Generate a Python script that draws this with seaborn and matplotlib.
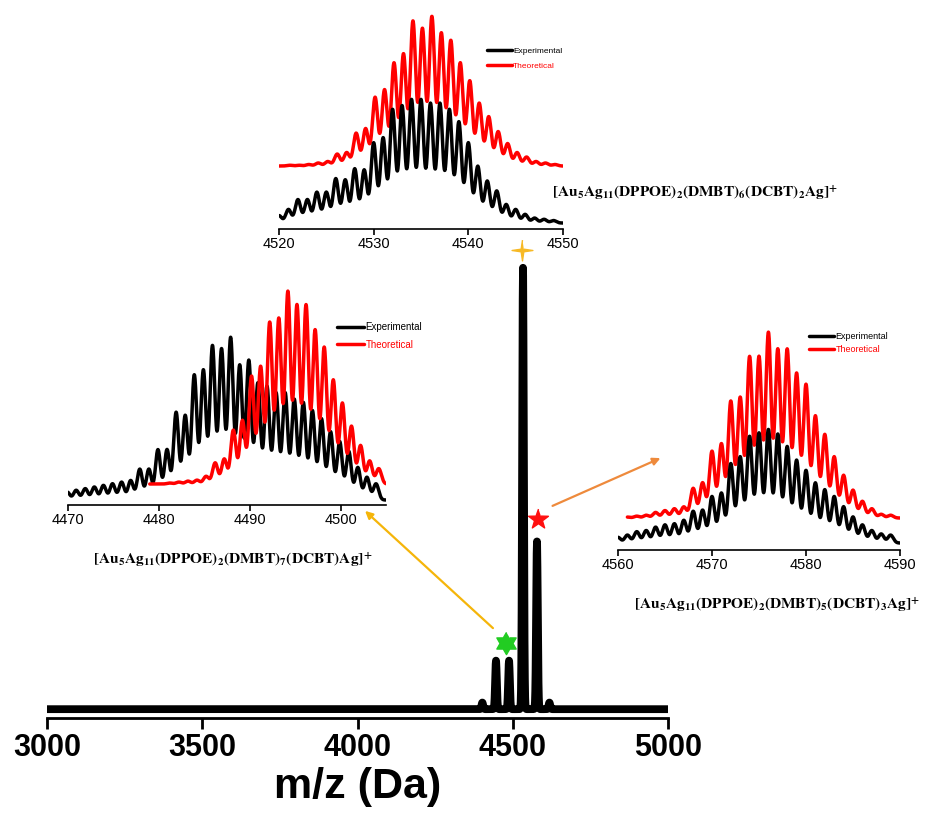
import numpy as np
import matplotlib
matplotlib.use("Agg")
import matplotlib.pyplot as plt
import seaborn as sns
from matplotlib.patches import FancyArrowPatch

sns.set_theme(style="ticks")
plt.rcParams["font.family"] = ["Liberation Sans", "DejaVu Sans"]
plt.rcParams["mathtext.fontset"] = "stix"
plt.rcParams.update({"text.color": "black", "axes.labelcolor": "black",
                     "xtick.color": "black", "ytick.color": "black",
                     "axes.edgecolor": "black"})

W, H = 925, 815

# ---- survey spectrum: peak centres (m/z) and relative intensities ----
survey_mz = [4402, 4446, 4488, 4533, 4578, 4618]
survey_int = [1.5, 11.0, 11.0, 100.0, 38.0, 1.5]
survey_ticks = [3000, 3500, 4000, 4500, 5000]

# ---- isotope pattern, [Au5Ag11(DPPOE)2(DMBT)6(DCBT)2Ag]+ ----
top_ticks = [4520, 4530, 4540, 4550]
top_exp_first = 4520.0
top_exp = [0.06, 0.11, 0.19, 0.19, 0.25, 0.25, 0.36, 0.35, 0.44, 0.43,
           0.65, 0.69, 0.92, 0.95, 1.00, 1.00, 0.97, 0.97, 0.92, 0.82,
           0.65, 0.46, 0.34, 0.26, 0.15, 0.11, 0.07, 0.04, 0.03, 0.02]
top_theo_first = 4521.15
top_theo = [0.005, 0.005, 0.01, 0.02, 0.03, 0.08, 0.09, 0.22, 0.25, 0.46,
            0.51, 0.69, 0.75, 0.97, 0.92, 1.00, 0.89, 0.84, 0.69, 0.57,
            0.42, 0.33, 0.23, 0.15, 0.09, 0.06, 0.03, 0.02, 0.01]

# ---- isotope pattern, [Au5Ag11(DPPOE)2(DMBT)7(DCBT)Ag]+ ----
left_ticks = [4470, 4480, 4490, 4500]
left_exp_first = 4469.9
left_exp = [0.05, 0.06, 0.07, 0.08, 0.09, 0.10, 0.11, 0.12, 0.19, 0.19,
            0.31, 0.31, 0.54, 0.52, 0.77, 0.80, 0.95, 0.93, 1.00, 0.83,
            0.86, 0.72, 0.70, 0.66, 0.66, 0.62, 0.60, 0.55, 0.50, 0.42,
            0.36, 0.30, 0.20, 0.14, 0.10]
left_theo_first = 4479.2
left_theo = [0.0, 0.0, 0.005, 0.01, 0.015, 0.02, 0.04, 0.11, 0.13, 0.28,
             0.33, 0.56, 0.61, 0.84, 0.86, 1.00, 0.93, 0.93, 0.80, 0.71,
             0.54, 0.42, 0.30, 0.20, 0.12, 0.08]

# ---- isotope pattern, [Au5Ag11(DPPOE)2(DMBT)5(DCBT)3Ag]+ ----
right_ticks = [4560, 4570, 4580, 4590]
right_exp_first = 4560.0
right_exp = [0.05, 0.07, 0.10, 0.11, 0.14, 0.16, 0.17, 0.20, 0.28, 0.29,
             0.41, 0.44, 0.70, 0.76, 0.94, 0.97, 1.00, 0.96, 0.85, 0.73,
             0.64, 0.53, 0.47, 0.41, 0.32, 0.23, 0.16, 0.11, 0.08, 0.07]
right_theo_first = 4561.0
right_theo = [0.005, 0.01, 0.015, 0.03, 0.04, 0.05, 0.06, 0.16, 0.19, 0.36,
              0.40, 0.63, 0.65, 0.87, 0.87, 1.00, 0.91, 0.91, 0.78, 0.72,
              0.55, 0.45, 0.33, 0.23, 0.15, 0.09, 0.05, 0.02, 0.015]

labels = {
    "top": r"$\mathbf{[Au_5Ag_{11}(DPPOE)_2(DMBT)_6(DCBT)_2Ag]^{+}}$",
    "left": r"$\mathbf{[Au_5Ag_{11}(DPPOE)_2(DMBT)_7(DCBT)Ag]^{+}}$",
    "right": r"$\mathbf{[Au_5Ag_{11}(DPPOE)_2(DMBT)_5(DCBT)_3Ag]^{+}}$",
}


def profile(grid, first, heights, sigma):
    centres = first + np.arange(len(heights))
    c = centres[:, None]
    h = np.asarray(heights)[:, None]
    return (h * np.exp(-0.5 * ((grid[None, :] - c) / sigma) ** 2)).sum(axis=0)


fig = plt.figure(figsize=(W / 100, H / 100), dpi=100)


def px_axes(x0, x1, ybot, ytop):
    return fig.add_axes([x0 / W, 1 - ybot / H, (x1 - x0) / W, (ybot - ytop) / H])


# ---------------- survey spectrum ----------------
ax = px_axes(47, 668, 718, 240)
grid = np.arange(3000, 5000.01, 0.5)
c = np.asarray(survey_mz, float)[:, None]
h = np.asarray(survey_int)[:, None]
spec = (h * np.exp(-0.5 * ((grid[None, :] - c) / 2.6) ** 2)).sum(axis=0)
sns.lineplot(x=grid, y=spec, ax=ax, color="black", lw=5.6, estimator=None,
             sort=False, solid_capstyle="butt")
ax.set_xlim(3000, 5000)
ax.set_ylim(-2.0, 106.3)
ax.set_xticks(survey_ticks)
ax.set_yticks([])
sns.despine(ax=ax, left=True)
ax.spines["bottom"].set_linewidth(2.0)
ax.tick_params(axis="x", direction="out", length=8, width=2.0, labelsize=22,
               pad=3, bottom=True)
for t in ax.get_xticklabels():
    t.set_fontweight("bold")
ax.set_xlabel("m/z (Da)", fontsize=31, fontweight="bold", labelpad=3)
ax.set_facecolor("none")

# markers flagging the three species
def star_verts(n, inner, rot=90.0):
    ang = np.deg2rad(rot) + np.arange(2 * n) * np.pi / n
    r = np.where(np.arange(2 * n) % 2 == 0, 1.0, inner)
    return list(zip(r * np.cos(ang), r * np.sin(ang)))

ax.plot([4530], [104.0], marker=star_verts(4, 0.18), ms=15, color="#F7B925",
        mec="#F7B925", ls="none", clip_on=False)
ax.plot([4582], [43.0], marker=star_verts(5, 0.40), ms=15, color="#FF1010",
        mec="#FF1010", ls="none", clip_on=False)
ax.plot([4478], [15.0], marker=star_verts(6, 0.58), ms=16, color="#22CC22",
        mec="#22CC22", ls="none", clip_on=False)


# ---------------- isotope insets ----------------
def inset(box, xlim, ticks, exp, exp_first, theo, theo_first, theo_start,
          exp_base, exp_amp, theo_base, theo_amp, red_on_top, leg):
    x0, x1, yb, yt = box
    a = px_axes(x0, x1, yb, yt)
    g = np.arange(xlim[0], xlim[1] + 0.001, 0.02)
    gt = g[g >= theo_start]
    y_exp = exp_base + exp_amp * profile(g, exp_first, exp, 0.29)
    y_theo = theo_base + theo_amp * profile(gt, theo_first, theo, 0.29)
    zr, zb = (3, 2) if red_on_top else (2, 3)
    sns.lineplot(x=gt, y=y_theo, ax=a, color="#FF0000", lw=2.5, estimator=None,
                 sort=False, zorder=zr, label="Theoretical")
    sns.lineplot(x=g, y=y_exp, ax=a, color="black", lw=2.5, estimator=None,
                 sort=False, zorder=zb, label="Experimental")
    a.set_xlim(xlim)
    a.set_ylim(0, yb - yt)
    a.set_xticks(ticks)
    a.set_yticks([])
    sns.despine(ax=a, left=True)
    a.spines["bottom"].set_linewidth(1.2)
    a.tick_params(axis="x", direction="out", length=4, width=1.2,
                  labelsize=10.5, pad=1.5, bottom=True)
    a.set_facecolor("none")
    hx, hy, fs, hl, ls = leg
    handles, labs = a.get_legend_handles_labels()
    order = [labs.index("Experimental"), labs.index("Theoretical")]
    a.legend([handles[i] for i in order], [labs[i] for i in order],
             loc="upper left", bbox_to_anchor=(hx, hy), frameon=False,
             fontsize=fs, handlelength=hl, handletextpad=0.15,
             labelspacing=ls, borderpad=0, borderaxespad=0,
             labelcolor="linecolor")
    return a


inset((279, 563, 229, 12), (4520, 4550), top_ticks, top_exp, top_exp_first,
      top_theo, top_theo_first, 4520.0, 6, 123, 63, 149, False,
      (0.732, 0.84, 6.0, 3.0, 0.95))
inset((68, 386, 505, 285), (4470, 4505), left_ticks, left_exp, left_exp_first,
      left_theo, left_theo_first, 4479.0, 5, 162, 21, 192, True,
      (0.846, 0.83, 7.0, 2.8, 0.75))
inset((618, 900, 550, 330), (4560, 4590), right_ticks, right_exp,
      right_exp_first, right_theo, right_theo_first, 4561.0, 7, 113, 32, 185,
      False, (0.677, 0.99, 6.5, 2.8, 0.45))

# species labels
fig.text(695 / W, 1 - 193 / H, labels["top"], ha="center", va="center",
         fontsize=11.1)
fig.text(233 / W, 1 - 560 / H, labels["left"], ha="center", va="center",
         fontsize=11.1)
fig.text(777 / W, 1 - 605 / H, labels["right"], ha="center", va="center",
         fontsize=11.1)

# arrows from the flagged peaks to their isotope patterns
for (xa, ya), (xb, yb), col in [((550, 507), (663, 457), "#EE8A3C"),
                                ((495, 630), (363, 509), "#F5B50A")]:
    fig.add_artist(FancyArrowPatch((xa / W, 1 - ya / H), (xb / W, 1 - yb / H),
                                   transform=fig.transFigure,
                                   arrowstyle="-|>", mutation_scale=11,
                                   lw=1.6, color=col))

fig.savefig("out.png", dpi=100)
